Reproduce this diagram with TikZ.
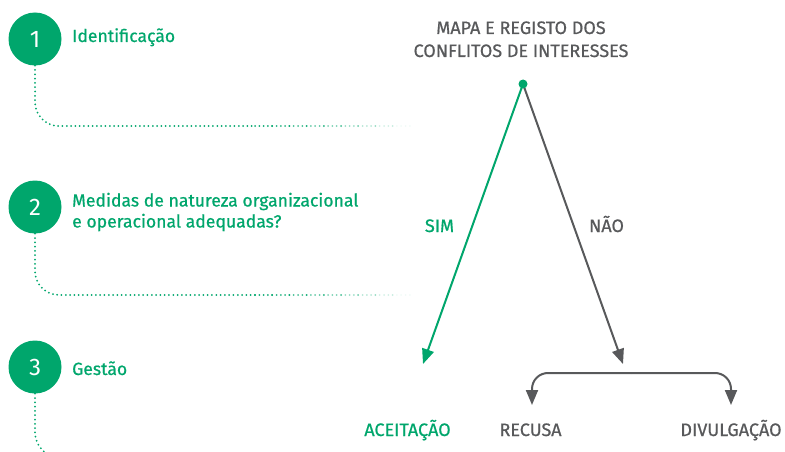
\documentclass[tikz,border=0pt]{standalone}
\usepackage{fontspec}
\setmainfont{Fira Sans}
\newfontfamily\lblfont{Fira Sans}[FakeBold=0.7]
\usetikzlibrary{arrows.meta,calc}
\definecolor{bgreen}{RGB}{0,166,108}
\definecolor{dgray}{RGB}{88,89,91}
\begin{document}
\begin{tikzpicture}[x=1pt,y=-1pt,
  num/.style={circle,fill=bgreen,minimum size=53pt,inner sep=0pt,text=white,font=\fontsize{24}{24}\selectfont},
  steplabel/.style={anchor=base west,text=bgreen,font=\lblfont\fontsize{17.6}{21}\selectfont,inner sep=0pt,align=left},
  caps/.style={anchor=base,inner sep=0pt,font=\lblfont\fontsize{18}{23}\selectfont},
  dots/.style={bgreen,line width=2pt,line cap=round,dash pattern=on 0pt off 4.3pt},
  arr/.style={line width=2pt,-{Triangle[length=15pt,width=12pt]}}
]
\useasboundingbox (0,0) rectangle (785,452);
\clip (0,0) rectangle (785,452);

% steps
\node[num] (c1) at (35,39) {1};
\node[num] (c2) at (35,207) {2};
\node[num] (c3) at (35,367) {3};
\node[steplabel] (l1) at (72,42) {Identificação};
\node[steplabel] (l2) at (72,227.5) {Medidas de natureza organizacional\\e operacional adequadas?};
\node[steplabel] (l3) at (72,375) {Gestão};

% dotted guides
\coordinate (h1) at (255,126);
\coordinate (h2) at (255,295);
\coordinate (h3) at (90,458);
\draw[dots,rounded corners=24pt] (c1.south) |- (h1);
\draw[dots,rounded corners=24pt] (c2.south) |- (h2);
\draw[dots,rounded corners=26pt] (c3.south) |- (h3);
\foreach \i [evaluate=\i as \op using {1-(\i+0.5)/9}] in {0,...,8}{
  \draw[dots,opacity=\op] ($(h1)+(\i*17.2,0)$) -- ++(17.2,0);
  \draw[dots,opacity=\op] ($(h2)+(\i*17.2,0)$) -- ++(17.2,0);
}

% decision tree
\node[caps,text=dgray,align=center,anchor=base] (title) at (521,57) {MAPA E REGISTO DOS\\CONFLITOS DE INTERESSES};
\coordinate (root) at (523,84);
\coordinate (simend) at (423,364);
\coordinate (naoend) at (623,364);
\draw[arr,bgreen] (root) -- (simend);
\draw[arr,dgray] (root) -- (naoend);
\fill[bgreen] (root) circle (4.5);
\node[caps,text=bgreen] (sim) at (439.5,232) {SIM};
\node[caps,text=dgray] (nao) at (606.5,232) {NÃO};

\coordinate (brmid) at (631,373);
\coordinate (rtip) at (532,405);
\coordinate (dtip) at (731,405);
\draw[arr,dgray,rounded corners=16pt] (brmid) -| (rtip);
\draw[arr,dgray,rounded corners=16pt] (brmid) -| (dtip);

\node[caps,text=bgreen] (acc) at (407.5,436) {ACEITAÇÃO};
\node[caps,text=dgray] (rec) at (530.5,436) {RECUSA};
\node[caps,text=dgray] (div) at (731,436) {DIVULGAÇÃO};
\end{tikzpicture}
\end{document}
